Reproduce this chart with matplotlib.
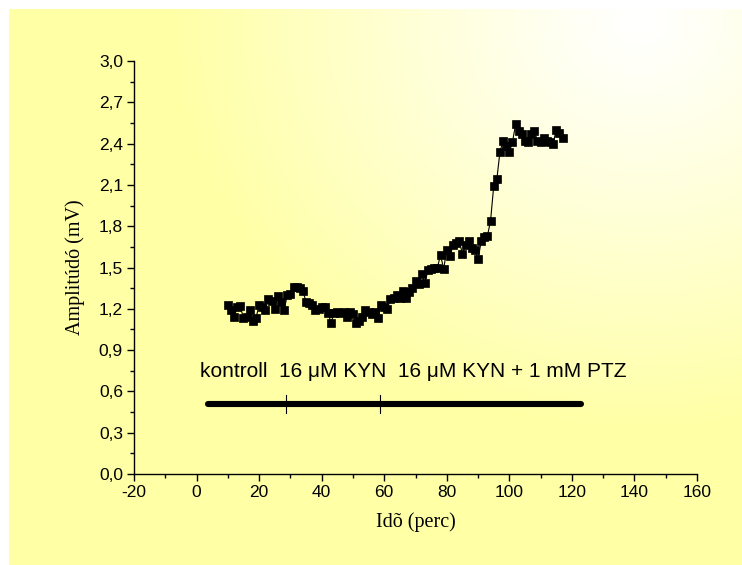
import numpy as np
import matplotlib
matplotlib.use("Agg")
import matplotlib.pyplot as plt
from matplotlib.ticker import MultipleLocator, FuncFormatter

# Recording time (minutes) and response amplitude (mV)
time_min = list(range(10, 118))
amplitude_mv = [
    1.23, 1.19, 1.14, 1.21, 1.22, 1.13, 1.14, 1.19, 1.11, 1.13,   # 10-19
    1.23, 1.21, 1.19, 1.27, 1.26, 1.20, 1.29, 1.25, 1.19, 1.30,   # 20-29
    1.31, 1.36, 1.36, 1.35, 1.33, 1.25, 1.24, 1.23, 1.19, 1.20,   # 30-39
    1.21, 1.21, 1.17, 1.10, 1.17, 1.18, 1.17, 1.18, 1.14, 1.18,   # 40-49
    1.16, 1.10, 1.11, 1.14, 1.19, 1.18, 1.16, 1.18, 1.13, 1.23,   # 50-59
    1.21, 1.20, 1.27, 1.28, 1.30, 1.28, 1.33, 1.28, 1.32, 1.35,   # 60-69
    1.40, 1.38, 1.45, 1.39, 1.48, 1.49, 1.50, 1.50, 1.59, 1.49,   # 70-79
    1.63, 1.58, 1.66, 1.68, 1.69, 1.60, 1.66, 1.69, 1.64, 1.63,   # 80-89
    1.56, 1.69, 1.72, 1.73, 1.84, 2.09, 2.14, 2.34, 2.42, 2.38,   # 90-99
    2.34, 2.41, 2.54, 2.49, 2.47, 2.42, 2.41, 2.47, 2.49, 2.42,   # 100-109
    2.41, 2.44, 2.42, 2.41, 2.40, 2.50, 2.48, 2.44,               # 110-117
]

# Treatment bar: start, phase boundaries, end (minutes) and its level (mV)
bar_edges = [3.7, 28.6, 58.6, 122.9]
bar_level = 0.51
treatment_label = "kontroll  16 \u03bcM KYN  16 \u03bcM KYN + 1 mM PTZ"

x_ticks = [-20, 0, 20, 40, 60, 80, 100, 120, 140, 160]
y_ticks = [0.0, 0.3, 0.6, 0.9, 1.2, 1.5, 1.8, 2.1, 2.4, 2.7, 3.0]

W, H = 742, 565
fig = plt.figure(figsize=(W / 100, H / 100), dpi=100)

# Background: pale yellow panel fading to white towards the upper right
bg = fig.add_axes([0, 0, 1, 1], zorder=-10)
yy, xx = np.mgrid[0:H, 0:W]
dist = np.hypot(xx - 640, (yy - 20) * 1.15)
t = np.clip(dist / 470.0, 0, 1) ** 1.1
yellow = np.array([255, 255, 166]) / 255.0
white = np.array([1.0, 1.0, 1.0])
img = white[None, None, :] * (1 - t[..., None]) + yellow[None, None, :] * t[..., None]
img[:9, :, :] = 1.0
img[:, :9, :] = 1.0
bg.imshow(img, extent=[0, W, H, 0], aspect="auto", interpolation="bilinear")
bg.set_xlim(0, W)
bg.set_ylim(H, 0)
bg.axis("off")

ax = fig.add_axes([134 / W, 1 - 474 / H, (697 - 134) / W, (474 - 61) / H])
ax.set_facecolor("none")

ax.plot(time_min, amplitude_mv, color="black", linewidth=0.8,
        marker="s", markersize=5.8, markerfacecolor="black",
        markeredgecolor="black", markeredgewidth=0.5, zorder=3)

# Treatment bar with phase separators
ax.plot([bar_edges[0], bar_edges[-1]], [bar_level, bar_level], color="black",
        linewidth=4.4, solid_capstyle="round", zorder=2)
for xb in bar_edges[1:-1]:
    ax.plot([xb, xb], [bar_level - 0.065, bar_level + 0.065], color="black",
            linewidth=0.8, zorder=2)
ax.text(bar_edges[0] - 2.6, 0.745, treatment_label, fontsize=15,
        family="Liberation Sans", ha="left", va="center")

ax.set_xlim(-20, 160)
ax.set_ylim(0, 3.0)
ax.set_xticks(x_ticks)
ax.set_yticks(y_ticks)
ax.xaxis.set_minor_locator(MultipleLocator(10))
ax.yaxis.set_minor_locator(MultipleLocator(0.15))
ax.yaxis.set_major_formatter(FuncFormatter(lambda v, p: f"{v:.1f}".replace(".", ",")))
ax.xaxis.set_major_formatter(FuncFormatter(lambda v, p: f"{v:.0f}"))

for side in ("top", "right"):
    ax.spines[side].set_visible(False)
for side in ("left", "bottom"):
    ax.spines[side].set_linewidth(1.0)

ax.tick_params(which="major", direction="out", length=5, width=1.0,
               labelsize=12.5, pad=3)
ax.tick_params(which="minor", direction="out", length=3, width=1.0)
for lbl in ax.get_xticklabels() + ax.get_yticklabels():
    lbl.set_family("Liberation Sans")

ax.set_xlabel("Id\u00f5 (perc)", family="Liberation Serif", fontsize=14.5, labelpad=9)
ax.set_ylabel("Amplit\u00fad\u00f3 (mV)", family="Liberation Serif", fontsize=14.5, labelpad=10)

fig.savefig("out.png", dpi=100)
